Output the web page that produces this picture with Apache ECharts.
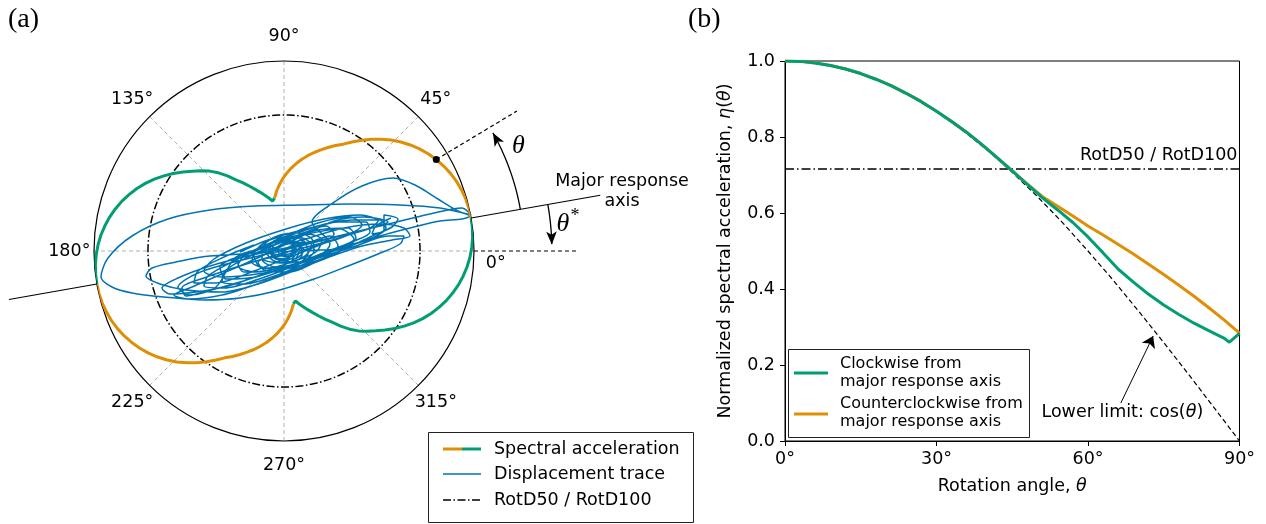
<!DOCTYPE html>
<html>
<head>
<meta charset="utf-8">
<script src="https://cdn.jsdelivr.net/npm/echarts@6/dist/echarts.min.js"></script>
<style>
  html, body { margin: 0; padding: 0; background: #fff; }
  #chart { width: 1266px; height: 524px; }
</style>
</head>
<body>
<div id="chart"></div>
<script>
// ---------------- data ----------------
// Normalized spectral acceleration eta(theta) vs rotation angle from the major response axis (deg)
const ccwAngles = [0,3,6,9,12,15,18,21,24,27,30,33,36,39,42,45,48,51,54,57,60,63,66,69,72,75,78,81,84,87,90];
const ccwEta    = [1.000,0.999,0.995,0.988,0.979,0.967,0.952,0.935,0.915,0.893,0.868,0.841,0.812,0.780,0.746,0.711,
                   0.676,0.643,0.618,0.592,0.566,0.542,0.517,0.492,0.465,0.438,0.410,0.381,0.350,0.318,0.284];
const cwAngles  = [0,3,6,9,12,15,18,21,24,27,30,33,36,39,42,45,48,51,54,57,60,63,66,69,72,75,78,81,84,87,88,90];
const cwEta     = [1.000,0.999,0.995,0.988,0.979,0.967,0.952,0.935,0.915,0.893,0.868,0.841,0.812,0.780,0.746,0.711,
                   0.675,0.640,0.608,0.575,0.537,0.495,0.452,0.418,0.386,0.358,0.333,0.310,0.290,0.270,0.260,0.283];
// Lower limit cos(theta)
const cosAngles = [0,5,10,15,20,25,30,35,40,45,50,55,60,65,70,75,80,85,90];
const cosValues = [1.000,0.996,0.985,0.966,0.940,0.906,0.866,0.819,0.766,0.707,0.643,0.574,0.500,0.423,0.342,0.259,0.174,0.087,0.000];

const rotdRatio = 0.716;      // RotD50 / RotD100
const majorAxisDeg = 10;      // orientation of the major response axis, theta*
const demoIndex = 7;          // ccwAngles[7] = 21 deg, the illustrated rotation theta

// Two-component displacement trace (cm)
const dispX = [0,
  0.6,1.0,0.3,-0.5,-0.6,0.2,1.2,1.0,-0.2,-1.2,-1.0,0.2,1.6,1.8,0.6,-1.0,-1.8,-1.0,0.6,2.0,
  2.4,1.2,-0.8,-2.2,-2.0,-0.4,1.4,2.8,3.0,1.6,-0.4,-2.4,-3.0,-2.0,0.0,2.0,1.0,-0.4,0.0,
  1.2,2.0,1.0,-0.8,-1.4,-0.2,1.8,2.8,1.8,
  -0.4,-2.2,-2.0,0,2.4,3.8,3.2,0.8,-1.6,-3.2,
  -2.8,-0.6,1.6,0.4,-1.4,0.2,2.6,4.6,5.4,3.4,
  0.2,-2.8,-4.6,-3.8,-0.8,2.2,4.2,5.0,2.6,-0.4,
  -2.6,-2.0,0.6,3.2,5.8,7.2,6.4,3.4,-0.2,-3.4,
  -5.8,-6.2,-4.0,-0.4,3.4,6.8,8.6,8.2,5.4,1.6,
  -2.2,-5.2,-7.6,-8.0,-6.0,-2.2,2.0,5.6,8.8,10.2,
  9.6,6.8,2.6,-1.6,-4.4,
  -3.0,-6.0,-8.6,-9.0,-6.8,-3.0,0.6,3.6,6.4,7.8,6.6,3.4,0.0,-3.6,-6.4,-5.8,-2.8,0.8,4.4,7.0,5.6,2.0,-1.6,-4.8,
  -6.8,-9.4,-10.6,-8.6,-4.6,0.4,5.2,8.4,9.4,7.6,4.0,0.2,-3.8,-7.0,-8.0,-6.2,-2.0,2.6,6.0,
  -7.4,-10.8,-13.2,-13.8,-12.4,
  -9.8,-6.2,-2.6,1.2,4.8,7.8,10.8,12.6,12.0,9.6,
  6.0,1.8,-2.2,-4.6,-4.0,-1.4,1.2,1.6,0.2,-1.6,
  -1.0,1.4,3.8,4.6,2.8,4.9,7.8,10.9,13.1,15.4,
  17.4,18.6,17.8,15.6,12.6,9.6,6.6,3.4,0.4,-2.6,
  -5.6,-8.8,-11.4,-12.2,-10.6,-7.4,-3.6,0.2,4.6,9.6,
  14.6,17.8,18.7,
  15.6,11.6,6.6,1.6,-2.9,-7.4,-11.6,-15.2,-17.6,-18.3,
  -17.2,-15.2,-12.0,-8.0,-4.4,-0.8,3.0,6.4,9.4,11.6,
  12.0,10.4,7.2,3.4,-0.6,-4.4,-8.0,-9.8,-10.2,-8.0,
  -4.4,-0.4,3.4,6.8,9.4,10.4,
  8.0,5.0,2.0,-2.0,-6.0,-9.2,-11.0,-9.6,-6.2,-2.4,1.8,5.6,8.6,10.8,11.4,10.0,
  10.0,8.8,9.2,10.7];
const dispY = [0,
  0.4,-0.2,-0.6,-0.3,0.4,0.8,0.4,-0.6,-1.0,-0.4,0.6,1.0,0.8,-0.4,-1.2,-1.0,0.0,1.0,1.4,1.0,
  -0.2,-1.4,-1.6,-0.8,0.6,1.6,1.8,1.2,0.0,-1.2,-1.8,-1.6,-0.4,0.8,1.4,1.2,0.2,-0.4,0.0,
  0.7,0.1,-0.8,-0.7,0.2,1.0,1.3,0.5,-0.7,
  -1.2,-0.7,0.4,1.2,1.7,1.1,-0.1,-1.1,-1.7,-1.1,
  0.1,0.9,0.5,-0.5,-0.1,0.7,0.9,1.5,0.5,-0.7,
  -1.5,-2.1,-1.5,-0.3,0.7,1.9,2.5,1.7,0.3,-0.5,
  -1.1,-1.9,-2.1,-1.1,0.1,1.3,2.3,2.1,0.9,-0.5,
  -1.9,-3.1,-3.3,-2.3,-0.7,0.9,1.9,2.9,2.9,1.9,
  0.3,-1.1,-2.5,-3.5,-3.7,-2.7,-1.1,0.3,1.3,2.3,
  3.1,3.1,2.3,1.1,-0.1,
  0.6,-0.6,-2.0,-3.2,-3.2,-2.0,-0.6,0.6,1.6,2.6,3.4,2.8,1.4,-0.2,-1.6,-2.8,-2.6,-1.4,0.0,1.2,2.2,1.6,0.4,-0.6,
  -3.6,-4.4,-3.6,-2.2,-1.0,0.2,1.4,2.2,3.0,3.6,3.2,2.2,0.8,-0.8,-2.0,-2.6,-2.2,-1.2,0.2,
  -0.5,-1.1,-1.7,-2.5,-3.3,
  -3.9,-4.1,-3.3,-1.9,-0.5,0.5,1.1,1.5,2.3,2.7,
  2.3,1.1,-0.1,-1.3,-2.1,-1.9,-0.7,0.5,1.1,0.5,
  -0.7,-1.1,-0.3,0.7,2.9,4.8,6.5,7.3,6.6,5.2,
  4.0,3.5,3.2,3.0,2.3,1.5,0.5,-0.5,-1.5,-2.5,
  -3.5,-4.1,-4.3,-3.7,-2.7,-1.5,-0.5,0.3,1.3,2.5,
  3.7,4.3,3.6,
  4.3,4.6,4.7,4.6,4.5,4.1,3.2,1.5,-0.7,-2.6,
  -3.6,-4.2,-4.6,-4.9,-4.7,-4.0,-2.8,-1.5,-0.3,0.7,
  1.5,1.5,0.5,-0.7,-1.9,-3.1,-4.1,-4.5,-3.7,-2.7,
  -1.5,-0.3,0.7,1.7,2.5,2.9,
  3.4,3.0,1.6,-0.4,-2.2,-3.6,-4.4,-4.8,-4.4,-3.2,-1.6,0.0,1.4,2.4,3.2,3.6,
  2.1,1.7,2.5,3.3];
const dispLimit = 19;   // cm at the outer circle
// cm extents of the overlay plane that spans panel (a), 10 px per cm, origin at the circle centre
const overlayX = [-28.4, 35.6];
const overlayY = [-27.3, 25.1];

const polarTickAngles = [0,45,90,135,180,225,270,315];

// ---------------- styling ----------------
const FONT = 'DejaVu Sans';
const SERIF = 'Liberation Serif';
const FS = 17.5;
const FS_LEG_B = 16;
const ORANGE = '#DE8F05', GREEN = '#029E73', BLUE = '#0173B2';

// Spectral acceleration in polar form: counterclockwise branches are orange, clockwise green
const segCCW = (base) => ccwAngles.map((t, i) => [ccwEta[i], base + t]);
const segCW  = (base) => cwAngles.map((t, i) => [cwEta[i], base - t]);

const circleAngles = [];
for (let a = 0; a <= 360; a += 2) circleAngles.push(a);
const rotdCircle = circleAngles.map(a => [rotdRatio, a]);

const demoAngle = majorAxisDeg + ccwAngles[demoIndex];
const demoR = ccwEta[demoIndex];

// annotations outside the unit circle live on the overlay plane (same centre and scale)
const P = (r, deg) => [r * dispLimit * Math.cos(deg * Math.PI / 180), r * dispLimit * Math.sin(deg * Math.PI / 180)];
const arcTheta = [];
for (let a = majorAxisDeg; a <= demoAngle - 1.4; a += 0.5) arcTheta.push(P(1.263, a));
const arcThetaStar = [];
for (let a = majorAxisDeg; a >= 1.4; a -= 0.5) arcThetaStar.push(P(1.41, a));

const polarLine = (data, style, z) => ({
  type: 'line', coordinateSystem: 'polar', polarIndex: 0, data,
  showSymbol: false, silent: true, z: z || 5, lineStyle: style
});
const overlayLine = (data, style, z) => ({
  type: 'line', xAxisIndex: 0, yAxisIndex: 0, data,
  showSymbol: false, silent: true, clip: false, z: z || 5, lineStyle: style
});

const option = {
  animation: false,
  backgroundColor: '#fff',
  textStyle: { fontFamily: FONT, color: '#000' },
  polar: { center: [284, 251], radius: 190 },
  angleAxis: {
    type: 'value', min: 0, max: 360, interval: 45, startAngle: 0, clockwise: false,
    axisLine: { show: true, lineStyle: { color: '#000', width: 1.2 } },
    axisTick: { show: false }, axisLabel: { show: false },
    splitLine: { show: true, lineStyle: { color: '#b0b0b0', width: 1, type: [4, 3] } }
  },
  radiusAxis: {
    type: 'value', min: 0, max: 1,
    axisLine: { show: false }, axisTick: { show: false }, axisLabel: { show: false }, splitLine: { show: false }
  },
  grid: [
    { left: 0, top: 0, width: 640, height: 524, show: false, containLabel: false, outerBoundsMode: 'none' },
    { left: 785, top: 61, width: 454.5, height: 380, show: true, borderColor: '#000', borderWidth: 1,
      backgroundColor: 'transparent', containLabel: false, outerBoundsMode: 'none' }
  ],
  xAxis: [
    { gridIndex: 0, type: 'value', min: overlayX[0], max: overlayX[1], show: false },
    { gridIndex: 1, type: 'value', min: 0, max: 90, interval: 30,
      axisLine: { show: true, lineStyle: { color: '#000', width: 1 } },
      axisTick: { show: true, inside: false, length: 5, lineStyle: { color: '#000' } },
      axisLabel: { formatter: v => v + '°', color: '#000', fontSize: FS, fontFamily: FONT, margin: 9 },
      splitLine: { show: false },
      name: 'Rotation angle, {i|θ}', nameLocation: 'middle', nameGap: 36,
      nameTextStyle: { fontSize: FS, fontFamily: FONT, color: '#000',
        rich: { i: { fontStyle: 'italic', fontSize: FS, fontFamily: FONT, color: '#000' } } } }
  ],
  yAxis: [
    { gridIndex: 0, type: 'value', min: overlayY[0], max: overlayY[1], show: false },
    { gridIndex: 1, type: 'value', min: 0, max: 1, interval: 0.2,
      axisLine: { show: true, lineStyle: { color: '#000', width: 1 } },
      axisTick: { show: true, inside: false, length: 5, lineStyle: { color: '#000' } },
      axisLabel: { formatter: v => v.toFixed(1), color: '#000', fontSize: FS, fontFamily: FONT, margin: 10 },
      splitLine: { show: false },
      name: 'Normalized spectral acceleration, {i|η}({i|θ})', nameLocation: 'middle', nameGap: 51,
      nameTextStyle: { fontSize: FS, fontFamily: FONT, color: '#000',
        rich: { i: { fontStyle: 'italic', fontSize: FS, fontFamily: FONT, color: '#000' } } } }
  ],
  series: [
    // ---- panel (a) ----
    polarLine(rotdCircle, { color: '#000', width: 1.5, type: [8, 2.5, 1.5, 2.5] }, 2),
    {
      type: 'line', xAxisIndex: 0, yAxisIndex: 0, silent: true, z: 3,
      data: dispX.map((x, i) => [x, dispY[i]]),
      showSymbol: false, smooth: 0.3, clip: false,
      lineStyle: { color: BLUE, width: 1.5 }
    },
    polarLine(segCCW(majorAxisDeg), { color: ORANGE, width: 3 }, 4),
    polarLine(segCW(majorAxisDeg + 180), { color: GREEN, width: 3 }, 4),
    polarLine(segCCW(majorAxisDeg + 180), { color: ORANGE, width: 3 }, 4),
    polarLine(segCW(majorAxisDeg + 360), { color: GREEN, width: 3 }, 4),
    // major response axis, outside the circle
    overlayLine([P(1, majorAxisDeg), P(1.69, majorAxisDeg)], { color: '#000', width: 1.2 }),
    overlayLine([P(1, majorAxisDeg + 180), P(1.47, majorAxisDeg + 180)], { color: '#000', width: 1.2 }),
    // 0 deg reference and rotated direction
    overlayLine([P(1, 0), P(1.54, 0)], { color: '#000', width: 1.2, type: [4, 3] }),
    overlayLine([P(demoR, demoAngle), P(1.43, demoAngle)], { color: '#000', width: 1.2, type: [4, 3] }),
    overlayLine(arcTheta, { color: '#000', width: 1.3 }),
    overlayLine(arcThetaStar, { color: '#000', width: 1.3 }),
    {
      type: 'scatter', xAxisIndex: 0, yAxisIndex: 0, silent: true, clip: false, z: 6,
      symbol: 'arrow', symbolSize: [8, 13],
      data: [
        { value: P(1.263, demoAngle - 1.55), symbolRotate: demoAngle - 1.55 },
        { value: P(1.41, 1.39), symbolRotate: -178.6 }
      ],
      itemStyle: { color: '#000', opacity: 1 }
    },
    {
      type: 'scatter', coordinateSystem: 'polar', silent: true, z: 6,
      symbol: 'circle', symbolSize: 7,
      data: [[demoR, demoAngle]], itemStyle: { color: '#000', opacity: 1 }
    },
    {
      type: 'scatter', xAxisIndex: 0, yAxisIndex: 0, silent: true, clip: false, z: 6,
      symbolSize: 1, itemStyle: { color: 'transparent', opacity: 1 },
      data: polarTickAngles.map(a => ({
        value: P(1.13, a), name: a + '°',
        label: a === 0 ? { offset: [-3, 12] } : {}
      })),
      label: {
        show: true, position: 'inside', color: '#000', fontSize: FS, fontFamily: FONT,
        formatter: p => p.name
      }
    },
    // ---- panel (b) ----
    {
      type: 'line', xAxisIndex: 1, yAxisIndex: 1, silent: true, z: 2,
      data: cosAngles.map((a, i) => [a, cosValues[i]]),
      showSymbol: false, lineStyle: { color: '#000', width: 1.2, type: [5, 3] },
      markLine: {
        silent: true, symbol: ['none', 'arrow'], symbolSize: 11, animation: false,
        label: { show: false },
        lineStyle: { color: '#000', width: 1, type: 'solid' },
        data: [[{ coord: [66.5, 0.1] }, { coord: [72.9, 0.276] }]]
      }
    },
    {
      type: 'line', xAxisIndex: 1, yAxisIndex: 1, silent: true, z: 2,
      data: [[0, rotdRatio], [90, rotdRatio]],
      showSymbol: false, lineStyle: { color: '#000', width: 1.5, type: [9, 3, 1.5, 3] }
    },
    {
      type: 'scatter', xAxisIndex: 1, yAxisIndex: 1, silent: true, z: 6,
      symbolSize: 1, itemStyle: { color: 'transparent', opacity: 1 },
      data: [[89.6, rotdRatio]],
      label: { show: true, position: 'top', align: 'right', distance: 4, color: '#000',
        fontSize: FS, fontFamily: FONT, formatter: 'RotD50 / RotD100' }
    },
    {
      type: 'scatter', xAxisIndex: 1, yAxisIndex: 1, silent: true, z: 6,
      symbolSize: 1, itemStyle: { color: 'transparent', opacity: 1 },
      data: [[66.8, 0.076]],
      label: { show: true, position: 'inside', color: '#000', fontSize: FS, fontFamily: FONT,
        formatter: 'Lower limit: cos({i|θ})',
        rich: { i: { fontStyle: 'italic', fontSize: FS, fontFamily: FONT, color: '#000' } } }
    },
    {
      type: 'line', xAxisIndex: 1, yAxisIndex: 1, silent: true, z: 3,
      data: ccwAngles.map((a, i) => [a, ccwEta[i]]),
      showSymbol: false, lineStyle: { color: ORANGE, width: 3 }
    },
    {
      type: 'line', xAxisIndex: 1, yAxisIndex: 1, silent: true, z: 4,
      data: cwAngles.map((a, i) => [a, cwEta[i]]),
      showSymbol: false, lineStyle: { color: GREEN, width: 3 }
    }
  ],
  graphic: [
    // panel tags
    { type: 'text', style: { text: '(a)', x: 8, y: 20, font: '28px "' + SERIF + '"', fill: '#000',
      textVerticalAlign: 'middle', verticalAlign: 'middle' } },
    { type: 'text', style: { text: '(b)', x: 688, y: 20, font: '28px "' + SERIF + '"', fill: '#000',
      textVerticalAlign: 'middle', verticalAlign: 'middle' } },
    // axis annotation texts
    { type: 'text', style: { text: 'Major response', x: 622, y: 181, font: FS + 'px "' + FONT + '"', fill: '#000',
      textAlign: 'center', align: 'center', textVerticalAlign: 'middle', verticalAlign: 'middle' } },
    { type: 'text', style: { text: 'axis', x: 622, y: 201, font: FS + 'px "' + FONT + '"', fill: '#000',
      textAlign: 'center', align: 'center', textVerticalAlign: 'middle', verticalAlign: 'middle' } },
    { type: 'text', style: { text: 'θ', x: 518.5, y: 146, font: 'italic 26px "' + SERIF + '"', fill: '#000',
      textAlign: 'center', align: 'center', textVerticalAlign: 'middle', verticalAlign: 'middle' } },
    { type: 'text', style: { text: 'θ', x: 563, y: 224, font: 'italic 26px "' + SERIF + '"', fill: '#000',
      textAlign: 'center', align: 'center', textVerticalAlign: 'middle', verticalAlign: 'middle' } },
    { type: 'text', style: { text: '*', x: 575, y: 216, font: '18px "' + SERIF + '"', fill: '#000',
      textAlign: 'center', align: 'center', textVerticalAlign: 'middle', verticalAlign: 'middle' } },
    // legend, panel (a)
    { type: 'rect', shape: { x: 428.5, y: 432.5, width: 265, height: 90 },
      style: { fill: '#fff', stroke: '#222', lineWidth: 1 }, z: 10 },
    { type: 'line', shape: { x1: 443, y1: 449, x2: 462, y2: 449 }, style: { stroke: ORANGE, lineWidth: 3 }, z: 11 },
    { type: 'line', shape: { x1: 462, y1: 449, x2: 481, y2: 449 }, style: { stroke: GREEN, lineWidth: 3 }, z: 11 },
    { type: 'line', shape: { x1: 443, y1: 474, x2: 481, y2: 474 }, style: { stroke: BLUE, lineWidth: 1.5 }, z: 11 },
    { type: 'line', shape: { x1: 443, y1: 500, x2: 481, y2: 500 },
      style: { stroke: '#000', lineWidth: 1.5, lineDash: [8, 2.5, 1.5, 2.5] }, z: 11 },
    { type: 'text', z: 11, style: { text: 'Spectral acceleration', x: 494, y: 449, font: FS + 'px "' + FONT + '"',
      fill: '#000', textVerticalAlign: 'middle', verticalAlign: 'middle' } },
    { type: 'text', z: 11, style: { text: 'Displacement trace', x: 494, y: 474, font: FS + 'px "' + FONT + '"',
      fill: '#000', textVerticalAlign: 'middle', verticalAlign: 'middle' } },
    { type: 'text', z: 11, style: { text: 'RotD50 / RotD100', x: 494, y: 500, font: FS + 'px "' + FONT + '"',
      fill: '#000', textVerticalAlign: 'middle', verticalAlign: 'middle' } },
    // legend, panel (b)
    { type: 'rect', shape: { x: 788.5, y: 349.5, width: 241, height: 88 },
      style: { fill: '#fff', stroke: '#222', lineWidth: 1 }, z: 10 },
    { type: 'line', shape: { x1: 794, y1: 373, x2: 828, y2: 373 }, style: { stroke: GREEN, lineWidth: 3 }, z: 11 },
    { type: 'line', shape: { x1: 794, y1: 414, x2: 828, y2: 414 }, style: { stroke: ORANGE, lineWidth: 3 }, z: 11 },
    { type: 'text', z: 11, style: { text: 'Clockwise from', x: 840, y: 364, font: FS_LEG_B + 'px "' + FONT + '"',
      fill: '#000', textVerticalAlign: 'middle', verticalAlign: 'middle' } },
    { type: 'text', z: 11, style: { text: 'major response axis', x: 840, y: 382, font: FS_LEG_B + 'px "' + FONT + '"',
      fill: '#000', textVerticalAlign: 'middle', verticalAlign: 'middle' } },
    { type: 'text', z: 11, style: { text: 'Counterclockwise from', x: 840, y: 404, font: FS_LEG_B + 'px "' + FONT + '"',
      fill: '#000', textVerticalAlign: 'middle', verticalAlign: 'middle' } },
    { type: 'text', z: 11, style: { text: 'major response axis', x: 840, y: 422, font: FS_LEG_B + 'px "' + FONT + '"',
      fill: '#000', textVerticalAlign: 'middle', verticalAlign: 'middle' } }
  ]
};

const chart = echarts.init(document.getElementById('chart'), null, { renderer: 'canvas' });
chart.setOption(option);
</script>
</body>
</html>
